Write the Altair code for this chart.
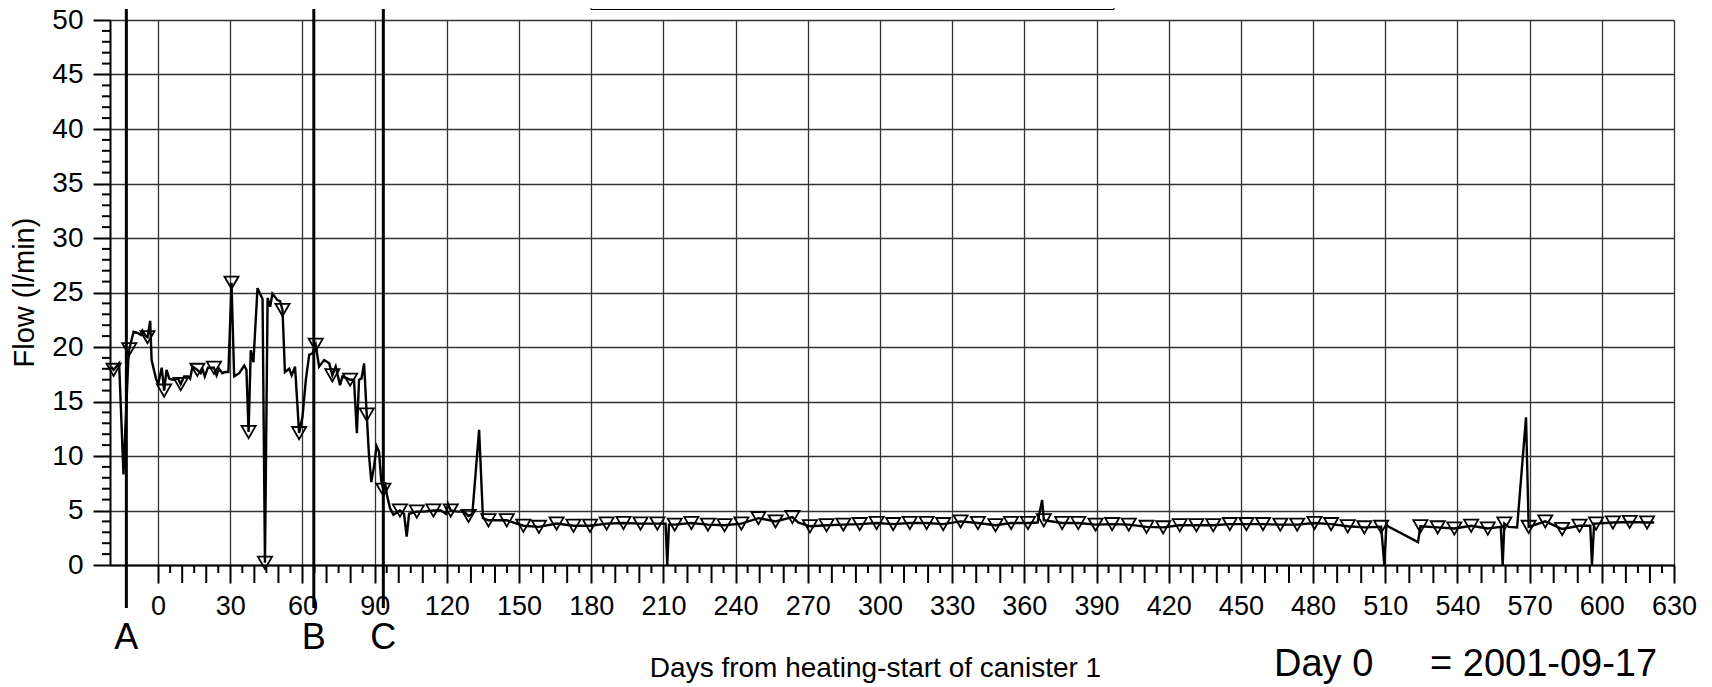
import altair as alt
import pandas as pd

# ---------------- data ----------------
line_day = [
    -19.6, -18.5, -16.2, -14.4, -12.4, -12.0, -10.2, -8.6, -7.2, -6.5, -5.1, -4.4,
    -3.3, -2.7, -0.9, 0.0, 1.5, 2.5, 3.5, 4.6, 6.0, 8.3, 9.4, 10.8, 12.5, 13.3,
    14.3, 16.3, 17.7, 18.4, 19.4, 20.7, 23.2, 24.3, 25.3, 26.7, 27.7, 29.2, 30.5,
    31.6, 33.7, 35.8, 36.7, 37.6, 38.5, 39.6, 41.3, 43.4, 44.4, 45.5, 46.6, 47.5,
    49.6, 50.7, 51.7, 52.7, 54.5, 55.5, 56.9, 58.6, 60.0, 61.4, 62.8, 64.1, 65.5,
    66.9, 69.0, 71.1, 72.4, 73.8, 75.6, 76.6, 79.8, 81.4, 82.6, 83.5, 84.5, 85.6,
    86.7, 87.6, 88.6, 89.7, 90.8, 91.8, 92.7, 93.6, 94.3, 95.2, 96.4, 97.8, 100.5,
    102.2, 103.3, 104.3, 107.5, 110.5, 114.4, 117.5, 119.6, 120.5, 121.6, 124.4,
    127.1, 129.0, 130.6, 133.4, 135.0, 137.3, 144.9, 151.8, 158.3, 165.6, 172.6,
    179.5, 186.4, 193.4, 200.5, 207.5, 210.9, 211.6, 212.3, 214.7, 221.6, 228.5,
    235.4, 242.4, 249.5, 256.6, 263.6, 266.0, 270.9, 277.8, 284.8, 291.6, 298.6,
    305.5, 312.4, 319.4, 326.3, 333.5, 340.7, 348.0, 354.5, 361.5, 365.5, 367.4,
    368.1, 375.7, 382.4, 389.6, 396.5, 403.4, 410.8, 417.7, 424.6, 431.5, 438.5,
    445.4, 452.3, 459.2, 466.4, 473.4, 480.6, 487.5, 494.4, 501.3, 508.3, 509.6,
    510.5, 511.5, 523.6, 524.6, 531.8, 538.7, 545.7, 552.6, 558.0, 558.8, 559.5,
    561.3, 564.8, 568.5, 569.6, 576.5, 583.5, 590.7, 595.2, 595.9, 596.8, 597.6,
    604.6, 611.6, 618.8, 621.8,
]
line_flow = [
    18.2, 17.9, 18.5, 8.3, 18.8, 19.8, 21.4, 21.3, 21.1, 21.5, 21.0, 20.9,
    22.4, 18.8, 17.1, 16.6, 18.1, 16.0, 17.9, 17.1, 17.0, 17.1, 16.6, 17.3, 17.3, 17.1,
    18.2, 17.9, 17.6, 18.0, 17.3, 18.1, 18.1, 17.4, 18.0, 17.6, 17.7, 17.7, 25.9,
    17.3, 17.6, 18.3, 17.9, 12.2, 19.7, 18.6, 25.4, 24.4, 0.2, 24.5, 23.7, 24.9,
    24.3, 24.2, 23.4, 17.7, 18.0, 17.4, 18.2, 12.1, 13.6, 17.0, 19.3, 19.4, 20.2,
    18.2, 18.8, 18.5, 17.4, 18.2, 16.5, 17.3, 17.0, 17.0, 12.1, 17.0, 17.1, 18.5,
    13.8, 10.2, 7.6, 9.0, 10.9, 10.4, 7.8, 6.9, 7.6, 6.3, 5.2, 4.6, 5.0,
    4.7, 2.6, 4.7, 4.9, 4.9, 5.0, 5.0, 4.7, 5.6, 5.0, 4.9,
    4.9, 4.5, 4.7, 12.4, 4.3, 4.1, 4.1, 3.6, 3.5, 3.8, 3.6,
    3.6, 3.8, 3.85, 3.8, 3.8, 3.8, 0.0, 3.7, 3.7, 3.85, 3.7,
    3.65, 3.8, 4.3, 4.0, 4.4, 3.9, 3.55, 3.65, 3.7, 3.75, 3.85,
    3.75, 3.85, 3.85, 3.75, 4.0, 3.85, 3.65, 3.85, 3.85, 3.9, 5.96,
    4.1, 3.85, 3.85, 3.7, 3.75, 3.7, 3.5, 3.45, 3.65, 3.65, 3.65,
    3.75, 3.75, 3.75, 3.7, 3.7, 3.85, 3.75, 3.55, 3.45, 3.5, 0.0,
    3.7, 3.5, 2.1, 3.55, 3.45, 3.35, 3.6, 3.35, 3.5, 0.0, 3.8,
    3.5, 3.45, 13.55, 3.5, 4.0, 3.3, 3.6, 3.6, 0.0, 3.8, 3.8,
    3.9, 3.95, 3.9, 3.9,
]
mark_day = [
    -18.5, -12.0, -4.4, 2.5, 9.4, 16.3, 23.2, 30.5, 37.6, 44.4, 51.7, 58.6, 65.5,
    72.4, 79.8, 86.7, 93.6, 100.5, 107.5, 114.4, 121.6, 129.0, 137.3, 144.9, 151.8,
    158.3, 165.6, 172.6, 179.5, 186.4, 193.4, 200.5, 207.5, 214.7, 221.6, 228.5,
    235.4, 242.4, 249.5, 256.6, 263.6, 270.9, 277.8, 284.8, 291.6, 298.6, 305.5,
    312.4, 319.4, 326.3, 333.5, 340.7, 348.0, 354.5, 361.5, 368.1, 375.7, 382.4,
    389.6, 396.5, 403.4, 410.8, 417.7, 424.6, 431.5, 438.5, 445.4, 452.3, 459.2,
    466.4, 473.4, 480.6, 487.5, 494.4, 501.3, 508.3, 524.6, 531.8, 538.7, 545.7,
    552.6, 559.5, 569.6, 576.5, 583.5, 590.7, 597.6, 604.6, 611.6, 618.8,
]
mark_flow = [
    17.9, 19.8, 20.9, 16.0, 16.6, 17.9, 18.1, 25.9, 12.2, 0.2, 23.4, 12.1, 20.2,
    17.4, 17.0, 13.8, 6.9, 5.0, 4.9, 5.0, 5.0, 4.5, 4.1, 4.1, 3.6,
    3.5, 3.8, 3.6, 3.6, 3.8, 3.85, 3.8, 3.8, 3.7, 3.85, 3.7,
    3.65, 3.8, 4.3, 4.0, 4.4, 3.55, 3.65, 3.7, 3.75, 3.85, 3.75,
    3.85, 3.85, 3.75, 4.0, 3.85, 3.65, 3.85, 3.85, 4.1, 3.85, 3.85,
    3.7, 3.75, 3.7, 3.5, 3.45, 3.65, 3.65, 3.65, 3.75, 3.75, 3.75,
    3.7, 3.7, 3.85, 3.75, 3.55, 3.45, 3.5, 3.55, 3.45, 3.35, 3.6,
    3.35, 3.8, 3.5, 4.0, 3.3, 3.6, 3.8, 3.9, 3.95, 3.9,
]
event_day = [-13.2, 64.7, 93.6]
event_label = ["A", "B", "C"]

x_major = list(range(0, 631, 30))
x_tick10 = [v for v in range(0, 631, 10) if v % 30 != 0]
x_tick5 = list(range(5, 631, 10))
y_major = list(range(0, 51, 5))
y_minor = [v for v in range(0, 51) if v % 5 != 0]

x_title = "Days from heating-start of canister 1"
y_title = "Flow (l/min)"
note_left = "Day 0"
note_right = "= 2001-09-17"

# ---------------- chart ----------------
FONT = "Liberation Sans"
W, H = 1564, 545
GRID = "#333333"

df_line = pd.DataFrame({"day": line_day, "flow": line_flow})
df_mark = pd.DataFrame({"day": mark_day, "flow": mark_flow})
df_evt = pd.DataFrame({"day": event_day, "label": event_label})
df_xt10 = pd.DataFrame({"day": x_tick10})
df_xt5 = pd.DataFrame({"day": x_tick5})
df_yt = pd.DataFrame({"flow": y_minor})
df_one = pd.DataFrame({"k": [0]})

xscale = alt.Scale(domain=[-20, 630], nice=False, zero=False)
yscale = alt.Scale(domain=[0, 50], nice=False)

x_axis = alt.Axis(
    values=x_major,
    tickSize=18,
    grid=True,
    gridColor=GRID,
    gridWidth=1.3,
    tickColor="black",
    tickWidth=2,
    domainColor="black",
    domainWidth=2,
    labelFont=FONT,
    labelFontSize=27,
    labelColor="black",
    labelPadding=10,
    labelFlush=False,
    labelOverlap=False,
    title=x_title,
    titleFont=FONT,
    titleFontSize=28,
    titleFontWeight="normal",
    titleColor="black",
    titleX=765,
    titleY=111,
    titleAlign="center",
    titleBaseline="alphabetic",
)
y_axis = alt.Axis(
    values=y_major,
    tickSize=17,
    grid=True,
    gridColor=GRID,
    gridWidth=1.3,
    tickColor="black",
    tickWidth=2,
    domainColor="black",
    domainWidth=2,
    labelFont=FONT,
    labelFontSize=28,
    labelColor="black",
    labelPadding=10,
    labelFlush=False,
    labelOverlap=False,
    title=y_title,
    titleFont=FONT,
    titleFontSize=29,
    titleFontWeight="normal",
    titleColor="black",
    titleAngle=270,
    titleX=-86,
    titleY=272,
    titleAlign="center",
    titleBaseline="middle",
)

X = alt.X("day:Q", scale=xscale, axis=x_axis)
Y = alt.Y("flow:Q", scale=yscale, axis=y_axis)

line = alt.Chart(df_line).mark_line(color="black", strokeWidth=2.4).encode(
    x=X, y=Y, order="day:Q",
)

marks = alt.Chart(df_mark).mark_point(
    shape="triangle-down", size=200, filled=False, color="black",
    strokeWidth=1.8, opacity=1,
).encode(x=X, y=Y)

xt10 = alt.Chart(df_xt10).mark_rule(color="black", strokeWidth=2).encode(
    x=X, y=alt.value(H), y2=alt.value(H + 18)
)
xt5 = alt.Chart(df_xt5).mark_rule(color="black", strokeWidth=2).encode(
    x=X, y=alt.value(H), y2=alt.value(H + 8)
)
yt = alt.Chart(df_yt).mark_rule(color="black", strokeWidth=2).encode(
    y=Y, x=alt.value(-8), x2=alt.value(0)
)

events = alt.Chart(df_evt).mark_rule(color="black", strokeWidth=3).encode(
    x=X, y=alt.value(-11), y2=alt.value(588),
)

event_text = alt.Chart(df_evt).mark_text(
    font=FONT, fontSize=36, color="black", baseline="alphabetic", align="center"
).encode(x=X, y=alt.value(629), text="label:N")

box = alt.Chart(df_one).mark_rect(fill="white", stroke="black", strokeWidth=1).encode(
    x=alt.value(481), x2=alt.value(1004), y=alt.value(-30), y2=alt.value(-10.5)
)

note1 = alt.Chart(df_one).mark_text(
    font=FONT, fontSize=38, color="black", align="left", baseline="alphabetic"
).encode(x=alt.value(1164), y=alt.value(656), text=alt.value(note_left))

note2 = alt.Chart(df_one).mark_text(
    font=FONT, fontSize=38, color="black", align="left", baseline="alphabetic"
).encode(x=alt.value(1320), y=alt.value(656), text=alt.value(note_right))

chart = alt.layer(
    line, xt10, xt5, yt, marks, events, event_text, box, note1, note2
).properties(
    width=W,
    height=H,
    autosize=alt.AutoSizeParams(type="none"),
    padding={"left": 102, "top": 12, "right": 30, "bottom": 122},
    background="white",
).configure_view(stroke=None)

chart.save("out.html", embed_options={"renderer": "svg", "actions": False})
